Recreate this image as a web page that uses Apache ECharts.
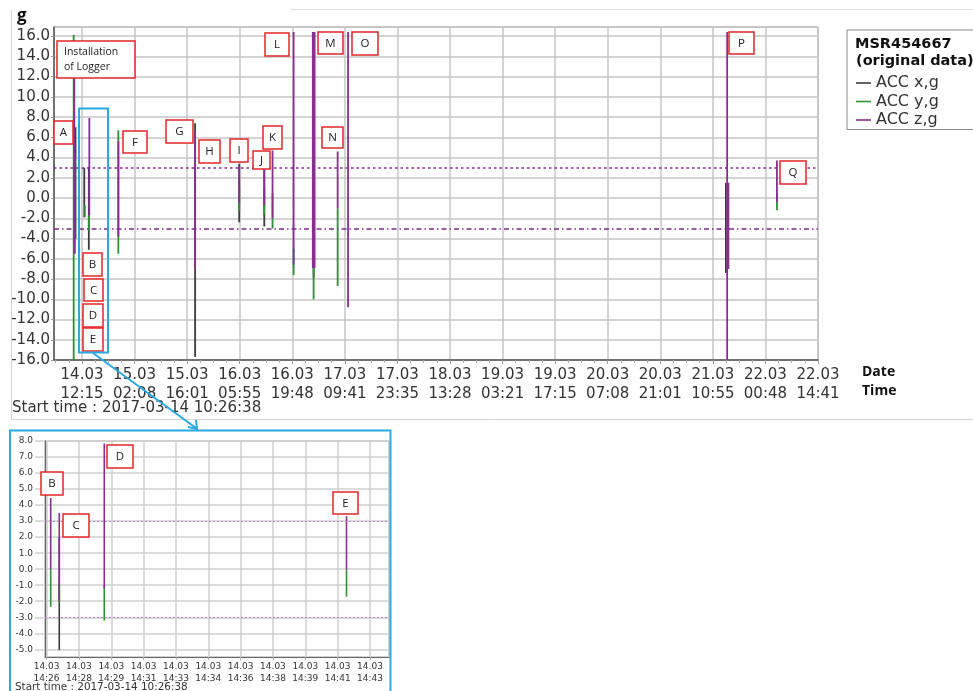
<!DOCTYPE html>
<html>
<head>
<meta charset="utf-8">
<script src="https://cdn.jsdelivr.net/npm/echarts@6/dist/echarts.min.js"></script>
<style>
  html, body { margin: 0; padding: 0; background: #ffffff; }
  #chart { width: 973px; height: 691px; }
</style>
</head>
<body>
<div id="chart"></div>
<script>
// ---------- Overview chart (whole recording) ----------
const mainTickLabels = [
  '14.03 12:15', '15.03 02:08', '15.03 16:01', '16.03 05:55', '16.03 19:48',
  '17.03 09:41', '17.03 23:35', '18.03 13:28', '19.03 03:21', '19.03 17:15',
  '20.03 07:08', '20.03 21:01', '21.03 10:55', '22.03 00:48', '22.03 14:41'
];
const mainRange = ['14.03 04:51', '22.03 14:41'];
const mainGRange = [-16, 16.9];

// Each entry: [time, lowest value, highest value] of one recorded burst
const accXMain = [
  ['14.03 10:32', -4.0, 7.0],
  ['14.03 12:51', -1.9, 3.0],
  ['14.03 14:03', -5.1, 3.1],
  ['15.03 18:08', -15.7, 7.4],
  ['16.03 05:47', -2.4, 3.4],
  ['16.03 12:24', -2.8, 2.9],
  ['17.03 01:26', -7.9, 16.4],
  ['21.03 14:21', -7.4, 1.5]
];
const accYMain = [
  ['14.03 10:03', -16.0, 16.1],
  ['14.03 12:59', -1.9, -0.7],
  ['14.03 14:03', -3.2, -1.7],
  ['14.03 21:51', -5.5, 6.7],
  ['16.03 05:47', -1.3, 1.0],
  ['16.03 12:24', -1.7, 1.0],
  ['16.03 14:35', -3.0, 0.5],
  ['16.03 20:09', -7.6, -5.0],
  ['17.03 01:26', -10.0, 2.0],
  ['17.03 07:47', -8.7, -1.0],
  ['21.03 14:41', -0.5, 0.5],
  ['22.03 03:50', -1.2, 0.5]
];
const accZMain = [
  ['14.03 10:13', -4.5, 11.8],
  ['14.03 10:22', -5.5, 4.0],
  ['14.03 14:11', -1.7, 7.9],
  ['14.03 21:51', -3.8, 5.6],
  ['15.03 18:08', -7.0, 6.6],
  ['16.03 05:47', -0.5, 3.2],
  ['16.03 12:24', -0.7, 2.8],
  ['16.03 14:35', -2.0, 4.7],
  ['16.03 20:09', -6.6, 16.4],
  ['17.03 01:13', -6.9, 16.4],
  ['17.03 01:26', -6.9, 16.4],
  ['17.03 01:42', -6.9, 16.4],
  ['17.03 07:47', -1.0, 4.6],
  ['17.03 10:32', -10.8, 16.4],
  ['21.03 14:41', -16.0, 16.4],
  ['21.03 15:01', -7.0, 1.5],
  ['22.03 03:50', -0.4, 3.7]
];
const alarmLimits = [3.0, -3.0];

// ---------- Detail chart (14.03, 14:26 - 14:43) ----------
const insetTickLabels = [
  '14.03 14:26', '14.03 14:28', '14.03 14:29', '14.03 14:31', '14.03 14:33', '14.03 14:34',
  '14.03 14:36', '14.03 14:38', '14.03 14:39', '14.03 14:41', '14.03 14:43'
];
const insetRange = ['14.03 14:25:55', '14.03 14:44:00'];
const insetGRange = [-5.48, 8];
const accXInset = [
  ['14.03 14:26:40', -5.05, 2.0]
];
const accYInset = [
  ['14.03 14:26:13', -2.35, 0.0],
  ['14.03 14:26:40', -2.1, -1.0],
  ['14.03 14:29:02', -3.2, -1.0],
  ['14.03 14:41:46', -1.72, 0.0]
];
const accZInset = [
  ['14.03 14:26:13', 0.0, 4.45],
  ['14.03 14:26:40', -1.95, 3.5],
  ['14.03 14:29:02', -1.2, 7.85],
  ['14.03 14:41:46', 0.0, 3.3]
];

const seriesNames = ['ACC x,g', 'ACC y,g', 'ACC z,g'];
const seriesColors = ['#3c3c3c', '#2f8f33', '#8a2e92'];

// ---------- helpers ----------
function toMinutes(s) {
  const [date, time] = s.split(' ');
  const day = +date.split('.')[0];
  const p = time.split(':').map(Number);
  return day * 1440 + p[0] * 60 + p[1] + (p[2] || 0) / 60;
}
function tickSetup(labels) {
  const origin = toMinutes(labels[0]);
  const step = (toMinutes(labels[labels.length - 1]) - origin) / (labels.length - 1);
  return { origin, step, values: labels.map((_, i) => i * step) };
}
function segments(list, origin) {
  const out = [];
  list.forEach(([t, lo, hi]) => {
    const x = toMinutes(t) - origin;
    out.push([x, lo], [x, hi], [x, '-']);
  });
  return out;
}
function labelFor(labels, step) {
  return v => {
    const s = labels[Math.round(v / step)];
    return s ? s.replace(' ', '\n') : '';
  };
}
function spike(name, color, data, xIdx, yIdx, width, extra) {
  return Object.assign({
    name, type: 'line', xAxisIndex: xIdx, yAxisIndex: yIdx, data,
    symbol: 'none', showSymbol: false, connectNulls: false,
    lineStyle: { color, width }, itemStyle: { color },
    emphasis: { disabled: true }, silent: true, animation: false
  }, extra || {});
}

const mainT = tickSetup(mainTickLabels);
const insetT = tickSetup(insetTickLabels);
// quarter-step minor ticks along the overview time axis
const mainMinor = [];
for (let i = -2; i < (mainTickLabels.length - 1) * 4; i++) {
  if (i % 4 !== 0) mainMinor.push(i * mainT.step / 4);
}

const FONT = 'DejaVu Sans';
const RED = '#e3262a';
const BLUE = '#2aa8e0';

function tag(text, x, y, w, h, opts) {
  opts = opts || {};
  return {
    type: 'group', x, y, z: 100,
    children: [
      { type: 'rect', z: 100, shape: { x: 0, y: 0, width: w, height: h },
        style: { fill: '#ffffff', stroke: RED, lineWidth: 1.5 } },
      { type: 'text', z: 101, x: opts.left ? 7 : w / 2, y: h / 2 + 0.5,
        style: { text, fill: '#222', fontSize: opts.size || 11.5, fontFamily: 'Open Sans',
                 align: opts.left ? 'left' : 'center', verticalAlign: 'middle', lineHeight: 15 } }
    ]
  };
}

const markLimits = (color, width, upperType, lowerType) => ({
  silent: true, symbol: ['none', 'none'], label: { show: false },
  lineStyle: { color, width },
  emphasis: { disabled: true },
  data: [
    { yAxis: alarmLimits[0], lineStyle: { type: upperType } },
    { yAxis: alarmLimits[1], lineStyle: { type: lowerType } }
  ]
});

const mainXMin = toMinutes(mainRange[0]) - mainT.origin;
const mainXMax = toMinutes(mainRange[1]) - mainT.origin;

const chart = echarts.init(document.getElementById('chart'), null, { renderer: 'canvas' });

chart.setOption({
  backgroundColor: '#ffffff',
  animation: false,
  textStyle: { fontFamily: FONT },
  grid: [
    { left: 54, top: 27, width: 764, height: 333, show: true, borderColor: '#8a8a8a', borderWidth: 1,
      outerBoundsMode: 'none' },
    { left: 45, top: 441, width: 344, height: 216, show: true, borderColor: '#aaaaaa', borderWidth: 1,
      outerBoundsMode: 'none' }
  ],
  xAxis: [
    {
      gridIndex: 0, type: 'value', min: mainXMin, max: mainXMax,
      axisLine: { show: true, onZero: false, lineStyle: { color: '#555', width: 1.5 } },
      axisTick: { show: true, customValues: mainT.values, length: 4, lineStyle: { color: '#999' } },
      axisLabel: { customValues: mainT.values, formatter: labelFor(mainTickLabels, mainT.step),
                   fontSize: 15, fontFamily: FONT, color: '#333', lineHeight: 19, margin: 6 },
      splitLine: { show: true, lineStyle: { color: '#c6c6c6', width: 1.5 } }
    },
    {
      gridIndex: 1, type: 'value',
      min: toMinutes(insetRange[0]) - insetT.origin,
      max: toMinutes(insetRange[1]) - insetT.origin,
      axisLine: { show: true, onZero: false, lineStyle: { color: '#666', width: 1.2 } },
      axisTick: { show: true, customValues: insetT.values, length: 3, lineStyle: { color: '#aaa' } },
      axisLabel: { customValues: insetT.values, formatter: labelFor(insetTickLabels, insetT.step),
                   fontSize: 9, fontFamily: FONT, color: '#333', lineHeight: 11.5, margin: 4 },
      splitLine: { show: true, lineStyle: { color: '#cfcfcf', width: 1.5 } }
    },
    {
      gridIndex: 0, type: 'value', min: mainXMin, max: mainXMax, position: 'bottom',
      axisLine: { show: false, onZero: false },
      axisTick: { show: true, customValues: mainMinor, length: 3, lineStyle: { color: '#aaa' } },
      axisLabel: { show: false },
      splitLine: { show: false }
    }
  ],
  yAxis: [
    {
      gridIndex: 0, type: 'value', min: mainGRange[0], max: mainGRange[1], interval: 2,
      axisLine: { show: true, onZero: false, lineStyle: { color: '#555', width: 1.5 } },
      axisTick: { show: true, length: 3, lineStyle: { color: '#999' } },
      axisLabel: { formatter: v => v.toFixed(1), showMaxLabel: false, fontSize: 15,
                   fontFamily: FONT, color: '#333', margin: 4 },
      splitLine: { show: true, lineStyle: { color: '#c6c6c6', width: 1.5 } }
    },
    {
      gridIndex: 1, type: 'value', min: insetGRange[0], max: insetGRange[1], splitNumber: 13,
      axisLine: { show: true, onZero: false, lineStyle: { color: '#666', width: 1.2 } },
      axisTick: { show: true, length: 10, lineStyle: { color: '#cfcfcf', width: 1.5 } },
      axisLabel: { formatter: v => v.toFixed(1), showMinLabel: false, fontSize: 9,
                   fontFamily: FONT, color: '#333', margin: 12 },
      splitLine: { show: true, lineStyle: { color: '#cfcfcf', width: 1.5 } }
    }
  ],
  legend: {
    orient: 'vertical', left: 851, top: 70, itemWidth: 15, itemHeight: 8, itemGap: 2.5, z: 120,
    selectedMode: false, icon: 'path://M0,4L15,4L15,5.6L0,5.6Z',
    textStyle: { fontSize: 16, fontFamily: FONT, color: '#333' },
    data: seriesNames
  },
  series: [
    spike(seriesNames[0], seriesColors[0], segments(accXMain, mainT.origin), 0, 0, 1.8),
    spike(seriesNames[1], seriesColors[1], segments(accYMain, mainT.origin), 0, 0, 1.8),
    spike(seriesNames[2], seriesColors[2], segments(accZMain, mainT.origin), 0, 0, 1.8,
          { markLine: markLimits('#7d2a85', 1.5, [2.5, 3], [5, 3, 1.5, 3]) }),
    spike(seriesNames[0], seriesColors[0], segments(accXInset, insetT.origin), 1, 1, 1.6),
    spike(seriesNames[1], seriesColors[1], segments(accYInset, insetT.origin), 1, 1, 1.6),
    spike(seriesNames[2], seriesColors[2], segments(accZInset, insetT.origin), 1, 1, 1.6,
          { markLine: markLimits('#c27fcf', 1.2, [2, 2], [2, 2]) })
  ],
  graphic: [
    // outer page frame
    { type: 'polyline', z: 1, shape: { points: [[11.5, 10], [11.5, 419.5], [973, 419.5]] },
      style: { stroke: '#d4d4d4', lineWidth: 1, fill: null } },
    { type: 'line', z: 1, shape: { x1: 290, y1: 9.5, x2: 973, y2: 9.5 },
      style: { stroke: '#e0e0e0', lineWidth: 1 } },
    // axis titles
    { type: 'text', x: 17, y: 16, z: 100,
      style: { text: 'g', fontSize: 17, fontWeight: 'bold', fontFamily: 'Open Sans', fill: '#111',
               align: 'left', verticalAlign: 'middle' } },
    { type: 'text', x: 862, y: 372, z: 100,
      style: { text: 'Date', fontSize: 14, fontWeight: 'bold', fontFamily: 'Open Sans', fill: '#111',
               align: 'left', verticalAlign: 'middle' } },
    { type: 'text', x: 862, y: 391, z: 100,
      style: { text: 'Time', fontSize: 14, fontWeight: 'bold', fontFamily: 'Open Sans', fill: '#111',
               align: 'left', verticalAlign: 'middle' } },
    { type: 'text', x: 12, y: 408, z: 100,
      style: { text: 'Start time : 2017-03-14 10:26:38', fontSize: 15, fontFamily: FONT, fill: '#333',
               align: 'left', verticalAlign: 'middle' } },
    // legend frame and title
    { type: 'rect', z: 1, shape: { x: 847, y: 30, width: 140, height: 99.5 },
      style: { fill: null, stroke: '#8a8a8a', lineWidth: 1 } },
    { type: 'text', x: 855, y: 44, z: 100,
      style: { text: 'MSR454667', fontSize: 14.5, fontWeight: 'bold', fontFamily: FONT, fill: '#111',
               align: 'left', verticalAlign: 'middle' } },
    { type: 'text', x: 856, y: 61, z: 100,
      style: { text: '(original data)', fontSize: 14.5, fontWeight: 'bold', fontFamily: FONT, fill: '#111',
               align: 'left', verticalAlign: 'middle' } },
    // event tags, overview
    tag('Installation\nof Logger', 57, 41, 78, 37, { left: true, size: 10.5 }),
    tag('A', 54, 121, 19, 23),
    tag('B', 83, 253, 19, 23),
    tag('C', 84, 279, 19, 22),
    tag('D', 83, 304, 20, 23),
    tag('E', 83, 328, 20, 23),
    tag('F', 123, 131, 24, 22),
    tag('G', 166, 120, 27, 23),
    tag('H', 199, 140, 21, 23),
    tag('I', 230, 139, 18, 23),
    tag('J', 253, 151, 17, 18),
    tag('K', 263, 126, 19, 23),
    tag('L', 265, 33, 24, 23),
    tag('M', 318, 32, 25, 22),
    tag('N', 322, 127, 21, 21),
    tag('O', 352, 32, 26, 23),
    tag('P', 729, 32, 25, 22),
    tag('Q', 780, 161, 26, 23),
    // zoom window and pointer to the detail chart
    { type: 'rect', z: 110, shape: { x: 79, y: 108.5, width: 29, height: 244 },
      style: { fill: null, stroke: BLUE, lineWidth: 2 } },
    { type: 'line', z: 110, shape: { x1: 93, y1: 353, x2: 196, y2: 428 },
      style: { stroke: BLUE, lineWidth: 2 } },
    { type: 'polyline', z: 110, shape: { points: [[188, 427], [197, 429], [196, 420]] },
      style: { stroke: BLUE, lineWidth: 2, fill: null } },
    // detail chart frame
    { type: 'rect', z: 110, shape: { x: 10, y: 430.5, width: 380.5, height: 270 },
      style: { fill: null, stroke: BLUE, lineWidth: 2 } },
    { type: 'text', x: 15, y: 687, z: 100,
      style: { text: 'Start time : 2017-03-14 10:26:38', fontSize: 10.4, fontFamily: FONT, fill: '#333',
               align: 'left', verticalAlign: 'middle' } },
    // event tags, detail
    tag('B', 41, 472, 22, 23),
    tag('C', 63, 514, 26, 23),
    tag('D', 107, 445, 26, 23),
    tag('E', 333, 492, 25, 22)
  ]
});
</script>
</body>
</html>
